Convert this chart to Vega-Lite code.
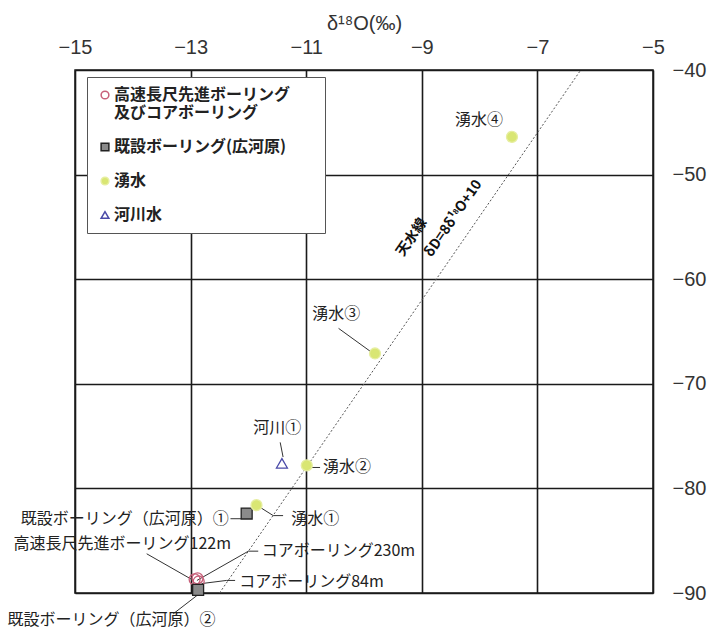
{
  "$schema": "https://vega.github.io/schema/vega-lite/v6.json",
  "autosize": {"type": "none"},
  "padding": {"left": 75, "top": 70, "right": 60, "bottom": 42},
  "width": 578,
  "height": 523,
  "background": "white",
  "config": {
    "view": {"stroke": "#1a1a1a", "strokeWidth": 1.5},
    "font": "Liberation Sans",
    "axis": {
      "domain": false, "ticks": false, "tickSize": 0, "grid": true,
      "gridColor": "#1a1a1a", "gridWidth": 1.6, "gridOpacity": 1,
      "labelFont": "Liberation Sans", "labelFontSize": 20, "labelColor": "#333",
      "titleFont": "Liberation Sans", "titleFontSize": 20, "titleFontWeight": "normal", "titleColor": "#333"
    },
    "legend": {
      "title": null, "orient": "none", "legendX": 12, "legendY": 7,
      "fillColor": "white", "strokeColor": "#555", "padding": 10,
      "labelFont": "Noto Sans CJK JP", "labelFontSize": 16, "labelFontWeight": "bold", "labelColor": "#222",
      "labelLimit": 400, "symbolSize": 60, "symbolStrokeWidth": 1.5, "rowPadding": 18, "labelOffset": 1
    }
  },
  "datasets": {
    "points": [
      {"name": "高速長尺先進ボーリング122m", "type": "高速長尺先進ボーリング及びコアボーリング", "d18O": -12.93, "dD": -88.7},
      {"name": "コアボーリング230m", "type": "高速長尺先進ボーリング及びコアボーリング", "d18O": -12.88, "dD": -88.6},
      {"name": "コアボーリング84m", "type": "高速長尺先進ボーリング及びコアボーリング", "d18O": -12.86, "dD": -88.9},
      {"name": "既設ボーリング（広河原）①", "type": "既設ボーリング(広河原)", "d18O": -12.03, "dD": -82.4},
      {"name": "既設ボーリング（広河原）②", "type": "既設ボーリング(広河原)", "d18O": -12.87, "dD": -89.7},
      {"name": "湧水①", "type": "湧水", "d18O": -11.86, "dD": -81.6},
      {"name": "湧水②", "type": "湧水", "d18O": -10.99, "dD": -77.8},
      {"name": "湧水③", "type": "湧水", "d18O": -9.81, "dD": -67.1},
      {"name": "湧水④", "type": "湧水", "d18O": -7.44, "dD": -46.4},
      {"name": "河川①", "type": "河川水", "d18O": -11.42, "dD": -77.6}
    ],
    "mwl": [
      {"d18O": -12.5, "dD": -90},
      {"d18O": -6.25, "dD": -40}
    ],
    "leaders": [
      {"id": "s1", "seq": 0, "d18O": -10.44, "dD": -64.7},
      {"id": "s1", "seq": 1, "d18O": -9.84, "dD": -67.1},
      {"id": "s2", "seq": 0, "d18O": -10.9, "dD": -78.0},
      {"id": "s2", "seq": 1, "d18O": -10.76, "dD": -78.0},
      {"id": "s3", "seq": 0, "d18O": -11.45, "dD": -75.6},
      {"id": "s3", "seq": 1, "d18O": -11.40, "dD": -77.0},
      {"id": "s4", "seq": 0, "d18O": -11.80, "dD": -81.8},
      {"id": "s4", "seq": 1, "d18O": -11.57, "dD": -82.6},
      {"id": "s4", "seq": 2, "d18O": -11.40, "dD": -82.6},
      {"id": "s5", "seq": 0, "d18O": -12.31, "dD": -82.9},
      {"id": "s5", "seq": 1, "d18O": -12.12, "dD": -82.9},
      {"id": "s6", "seq": 0, "d18O": -13.76, "dD": -86.25},
      {"id": "s6", "seq": 1, "d18O": -12.95, "dD": -88.8},
      {"id": "s7", "seq": 0, "d18O": -12.89, "dD": -88.8},
      {"id": "s7", "seq": 1, "d18O": -12.0, "dD": -86.0},
      {"id": "s7", "seq": 2, "d18O": -11.83, "dD": -86.0},
      {"id": "s8", "seq": 0, "d18O": -12.81, "dD": -89.1},
      {"id": "s8", "seq": 1, "d18O": -12.38, "dD": -88.8},
      {"id": "s8", "seq": 2, "d18O": -12.23, "dD": -88.8},
      {"id": "s9", "seq": 0, "d18O": -12.89, "dD": -90.24},
      {"id": "s9", "seq": 1, "d18O": -13.30, "dD": -91.99}
    ],
    "labels_center": [
      {"label": "湧水④", "d18O": -8.01, "dD": -44.8},
      {"label": "湧水③", "d18O": -10.48, "dD": -63.3},
      {"label": "河川①", "d18O": -11.5, "dD": -74.2},
      {"label": "既設ボーリング（広河原）②", "d18O": -14.37, "dD": -92.6}
    ],
    "labels_left": [
      {"label": "湧水②", "d18O": -10.71, "dD": -78.0},
      {"label": "湧水①", "d18O": -11.26, "dD": -82.9},
      {"label": "コアボーリング230m", "d18O": -11.77, "dD": -86.0},
      {"label": "コアボーリング84m", "d18O": -12.16, "dD": -88.95}
    ],
    "labels_right": [
      {"label": "既設ボーリング（広河原）①", "d18O": -12.34, "dD": -82.9},
      {"label": "高速長尺先進ボーリング122m", "d18O": -12.30, "dD": -85.3}
    ],
    "mwl_labels": [
      {"label": "天水線", "d18O": -9.17, "dD": -56.0},
      {"label": "δD=8δ¹⁸O+10", "d18O": -8.45, "dD": -54.2}
    ]
  },
  "encoding": {
    "x": {
      "field": "d18O", "type": "quantitative",
      "scale": {"domain": [-15, -5], "nice": false, "zero": false},
      "axis": {"orient": "top", "title": "δ¹⁸O(‰)", "values": [-15, -13, -11, -9, -7, -5], "labelPadding": 13, "titlePadding": 4, "labelFlush": false}
    },
    "y": {
      "field": "dD", "type": "quantitative",
      "scale": {"domain": [-90, -40], "nice": false, "zero": false},
      "axis": {"orient": "right", "title": null, "values": [-40, -50, -60, -70, -80, -90], "labelPadding": 19, "labelFlush": false}
    }
  },
  "layer": [
    {
      "data": {"name": "mwl"},
      "mark": {"type": "line", "color": "#555", "strokeWidth": 1, "strokeDash": [2, 2]},
      "encoding": {}
    },
    {
      "data": {"name": "leaders"},
      "mark": {"type": "line", "color": "#333", "strokeWidth": 1},
      "encoding": {
        "detail": {"field": "id", "type": "nominal"},
        "order": {"field": "seq", "type": "quantitative"}
      }
    },
    {
      "data": {"name": "points"},
      "mark": {"type": "point", "filled": true, "size": 120, "strokeWidth": 1.3, "opacity": 1},
      "encoding": {
        "shape": {
          "field": "type", "type": "nominal",
          "scale": {"domain": ["高速長尺先進ボーリング及びコアボーリング", "既設ボーリング(広河原)", "湧水", "河川水"], "range": ["circle", "square", "circle", "triangle-up"]},
          "legend": {
            "labelExpr": "datum.value == '高速長尺先進ボーリング及びコアボーリング' ? ['高速長尺先進ボーリング\u2800\u2800', '及びコアボーリング'] : datum.label",
            "encode": {"labels": {"lineHeight": {"value": 22}}}
          }
        },
        "fill": {
          "field": "type", "type": "nominal",
          "scale": {"domain": ["高速長尺先進ボーリング及びコアボーリング", "既設ボーリング(広河原)", "湧水", "河川水"], "range": ["transparent", "#8a8a8a", "#d9e673", "white"]},
          "legend": {
            "labelExpr": "datum.value == '高速長尺先進ボーリング及びコアボーリング' ? ['高速長尺先進ボーリング\u2800\u2800', '及びコアボーリング'] : datum.label",
            "encode": {"labels": {"lineHeight": {"value": 22}}}
          }
        },
        "stroke": {
          "field": "type", "type": "nominal",
          "scale": {"domain": ["高速長尺先進ボーリング及びコアボーリング", "既設ボーリング(広河原)", "湧水", "河川水"], "range": ["#c8607a", "#222222", "#e6eea0", "#4a4aa8"]},
          "legend": {
            "labelExpr": "datum.value == '高速長尺先進ボーリング及びコアボーリング' ? ['高速長尺先進ボーリング\u2800\u2800', '及びコアボーリング'] : datum.label",
            "encode": {"labels": {"lineHeight": {"value": 22}}}
          }
        }
      }
    },
    {
      "data": {"name": "labels_center"},
      "mark": {"type": "text", "font": "Noto Sans CJK JP", "fontSize": 16, "color": "#222", "align": "center", "baseline": "middle"},
      "encoding": {"text": {"field": "label", "type": "nominal"}}
    },
    {
      "data": {"name": "labels_left"},
      "mark": {"type": "text", "font": "Noto Sans CJK JP", "fontSize": 16, "color": "#222", "align": "left", "baseline": "middle"},
      "encoding": {"text": {"field": "label", "type": "nominal"}}
    },
    {
      "data": {"name": "labels_right"},
      "mark": {"type": "text", "font": "Noto Sans CJK JP", "fontSize": 16, "color": "#222", "align": "right", "baseline": "middle"},
      "encoding": {"text": {"field": "label", "type": "nominal"}}
    },
    {
      "data": {"name": "mwl_labels"},
      "mark": {"type": "text", "font": "Noto Sans CJK JP", "fontSize": 14, "fontWeight": "bold", "color": "#111", "align": "center", "baseline": "middle", "angle": 304.6},
      "encoding": {"text": {"field": "label", "type": "nominal"}}
    }
  ]
}
